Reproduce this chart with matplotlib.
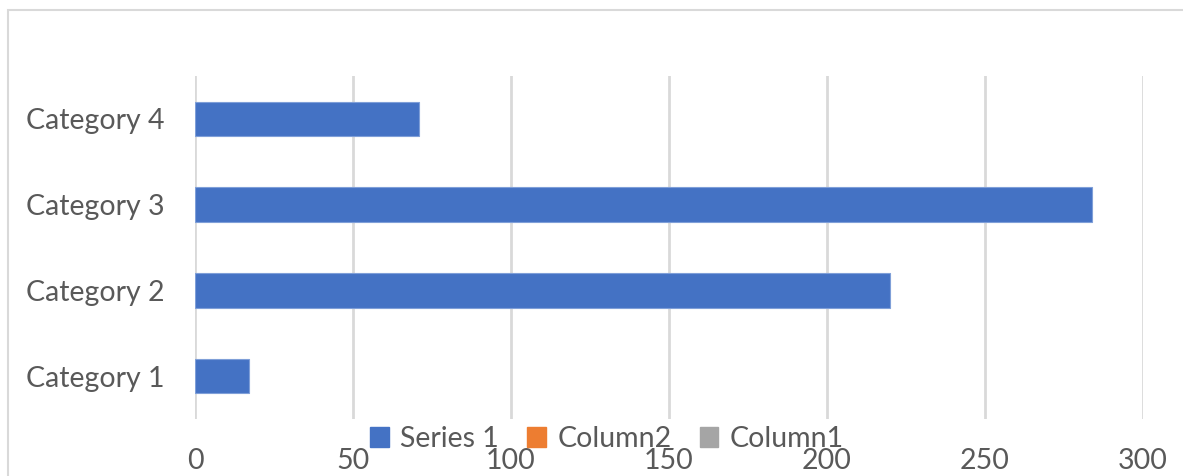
import matplotlib
matplotlib.use("Agg")
import matplotlib.pyplot as plt
from matplotlib.patches import Rectangle, Patch

categories = ["Category 1", "Category 2", "Category 3", "Category 4"]
series_1 = [17, 220, 284, 71]
column2 = [0, 0, 0, 0]
column1 = [0, 0, 0, 0]
x_ticks = [0, 50, 100, 150, 200, 250, 300]

BLUE = "#4472C4"
ORANGE = "#ED7D31"
GRAY = "#A5A5A5"
TEXT = "#595959"
GRID = "#D9D9D9"

plt.rcParams["font.family"] = ["Lato", "DejaVu Sans"]

W, H = 1183, 476
fig = plt.figure(figsize=(W / 100, H / 100), dpi=100)

# chart area outline (runs off the bottom/right of the image)
fig.patches.append(Rectangle((8 / W, -0.1), 1.2, 1 - 10 / H + 0.1,
                             transform=fig.transFigure, fill=False,
                             edgecolor="#D9D9D9", linewidth=1.5))

ax = fig.add_axes([195 / W, 1 - 419 / H, (1142.5 - 195) / W, (419 - 76) / H])

y = range(len(categories))
ax.barh(y, series_1, height=0.4, color=BLUE, edgecolor="#7F9FD8", linewidth=0.8, zorder=3)

ax.set_xlim(0, 300)
ax.set_ylim(-0.5, len(categories) - 0.5)
ax.set_xticks(x_ticks)
ax.set_xticklabels([str(t) for t in x_ticks])
ax.set_yticks(list(y))
ax.set_yticklabels(categories)
ax.tick_params(axis="both", length=0, labelsize=20.5, labelcolor=TEXT)
ax.tick_params(axis="y", pad=22)
ax.tick_params(axis="x", pad=21)

ax.grid(axis="x", color=GRID, linewidth=2, zorder=0)
for s in ax.spines.values():
    s.set_visible(False)

handles = [Patch(color=BLUE, label="Series 1"),
           Patch(color=ORANGE, label="Column2"),
           Patch(color=GRAY, label="Column1")]
fig.legend(handles=handles, loc="center", bbox_to_anchor=(607 / W, 1 - 439 / H),
           ncol=3, frameon=False, fontsize=20.5, labelcolor=TEXT,
           handlelength=0.65, handleheight=0.65, handletextpad=0.4,
           columnspacing=1.0, borderpad=0)

fig.savefig("out.png", dpi=100)
